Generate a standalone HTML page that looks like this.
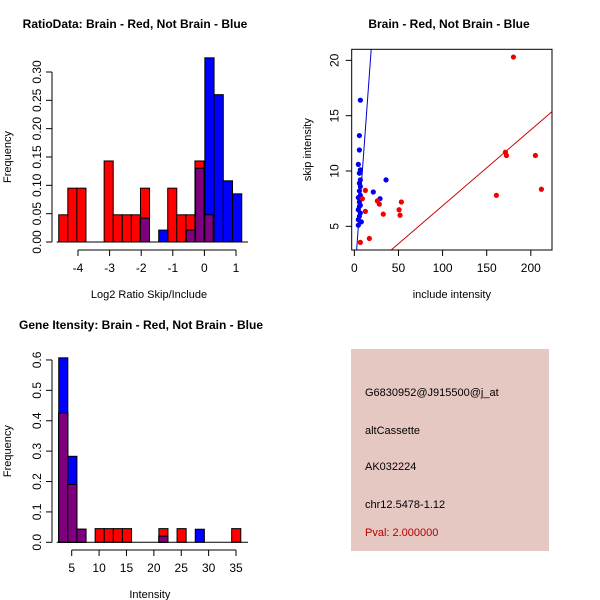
<!DOCTYPE html>
<html><head><meta charset="utf-8"><style>
html,body{margin:0;padding:0;background:#fff}
svg{display:block;font-family:"Liberation Sans",sans-serif}
</style></head><body>
<svg id="c" width="600" height="600" xmlns="http://www.w3.org/2000/svg">
<rect x="0" y="0" width="600" height="600" fill="#fff"/>
<text x="135" y="28" font-size="12" font-weight="bold" text-anchor="middle">RatioData: Brain - Red, Not Brain - Blue</text>
<text x="449" y="28" font-size="12" font-weight="bold" text-anchor="middle">Brain - Red, Not Brain - Blue</text>
<text x="141" y="329" font-size="12" font-weight="bold" text-anchor="middle">Gene Itensity: Brain - Red, Not Brain - Blue</text>
<rect x="351" y="349" width="198" height="202" fill="#e6c8c3"/>
<g font-size="11">
<text x="365" y="396">G6830952@J915500@j_at</text>
<text x="365" y="434">altCassette</text>
<text x="365" y="470">AK032224</text>
<text x="365" y="508">chr12.5478-1.12</text>
<text x="365" y="536" fill="#b00000">Pval: 2.000000</text>
</g>
</svg>
<script>
// Ratio histogram data
const ratioRedStart = -4.61, ratioRedWidth = 0.2874;
const ratioRedFreq = [0.048,0.095,0.095,0,0,0.143,0.048,0.048,0.048,0.095,0,0,0.095,0.048,0.048,0.143,0.048];
const ratioBlueStart = -2.03, ratioBlueWidth = 0.292;
const ratioBlueFreq = [0.042,0,0.021,0,0,0.021,0.13,0.325,0.26,0.108,0.085];
const ratioXTicks = [-4,-3,-2,-1,0,1];
const ratioYTicks = ["0.00","0.05","0.10","0.15","0.20","0.25","0.30"];
// Intensity histogram data
const intStart = 2.63, intWidth = 1.662;
const intRedFreq = [0.425,0.19,0.043,0,0.045,0.045,0.045,0.045,0,0,0,0.045,0,0.045,0,0,0,0,0,0.045];
const intBlueFreq = [0.607,0.283,0.043,0,0,0,0,0,0,0,0,0.02,0,0,0,0.043,0,0,0,0];
const intXTicks = [5,10,15,20,25,30,35];
const intYTicks = ["0.0","0.1","0.2","0.3","0.4","0.5","0.6"];
// Scatter data
const blueX = [6.8,5.7,5.7,4.5,6.8,5.7,6.8,5.7,6.8,5.7,6.8,4.5,5.7,6.8,4.5,6.8,5.7,7.9,4.5,21.5,29.1,35.9,5.7,4.5];
const blueY = [16.4,13.2,11.9,10.6,10.1,9.8,9.2,8.9,8.6,8.2,7.8,7.6,7.2,6.9,6.5,6.2,5.9,5.4,5.1,8.1,7.5,9.2,6.8,5.6];
const redX = [6.8,17.0,12.5,12.5,9.1,26.1,28.3,32.8,53.3,50.7,51.8,180.3,171.2,172.4,205.2,161.0,212.0];
const redY = [3.55,3.9,8.25,6.35,7.5,7.3,7.0,6.1,7.2,6.5,6.0,20.3,11.7,11.4,11.4,7.8,8.35];
const blueSlope = 1.1, redSlope = 0.0686;
const scXTicks = [0,50,100,150,200];
const scYTicks = [5,10,15,20];

const svg = document.getElementById('c');
const NS = 'http://www.w3.org/2000/svg';
function mk(tag, attrs, parent) {
  const e = document.createElementNS(NS, tag);
  for (const k in attrs) e.setAttribute(k, attrs[k]);
  (parent || svg).appendChild(e);
  return e;
}
function txt(x, y, s, attrs, parent) {
  const e = mk('text', Object.assign({x: x, y: y, 'font-size': 11}, attrs || {}), parent);
  e.textContent = s;
  return e;
}

function histPanel(o) {
  const g = mk('g', {});
  
  
  const xs = v => o.x0 + (v - o.xv0) * o.kx;
  const ys = v => o.y0 - v * o.ky;
  o.red.forEach((f, i) => {
    if (f <= 0) return;
    const a = o.rs + i * o.rw;
    const r = mk('rect', {x: xs(a), y: ys(f), width: xs(a + o.rw) - xs(a), height: ys(0) - ys(f), fill: '#ff0000', stroke: '#000', 'stroke-width': 1}, g);
    
    
  });
  o.blue.forEach((f, i) => {
    if (f <= 0) return;
    const a = o.bs + i * o.bw;
    const r = mk('rect', {x: xs(a), y: ys(f), width: xs(a + o.bw) - xs(a), height: ys(0) - ys(f), fill: '#0000ff', stroke: '#000', 'stroke-width': 1}, g);
    
    
  });
  o.blue.forEach((fb, i) => {
    if (fb <= 0) return;
    const a = o.bs + i * o.bw, b = a + o.bw;
    o.red.forEach((fr, j) => {
      if (fr <= 0) return;
      const c = o.rs + j * o.rw, d = c + o.rw;
      const lo = Math.max(a, c), hi = Math.min(b, d);
      if (hi - lo < o.rw * 0.5) return;
      const h = Math.min(fb, fr);
      const r = mk('rect', {x: xs(lo), y: ys(h), width: xs(hi) - xs(lo), height: ys(0) - ys(h), fill: '#7f007f', stroke: '#000', 'stroke-width': 1}, g);
      
      
    });
  });
  const xa = mk('g', {}, g);
  
  
  const ay = o.axY;
  mk('line', {x1: xs(o.xt[0]), x2: xs(o.xt[o.xt.length - 1]), y1: ay, y2: ay, stroke: '#000'}, xa);
  o.xt.forEach(t => {
    mk('line', {x1: xs(t), x2: xs(t), y1: ay, y2: ay + 6, stroke: '#000'}, xa);
    txt(xs(t), ay + 22, String(t), {'text-anchor': 'middle', 'font-size': 12}, xa);
  });
  txt((o.x0 + xs(o.xt[o.xt.length - 1])) / 2 + o.xlabDx, ay + 48, o.xlab, {'text-anchor': 'middle', 'font-size': 11}, xa);
  const ya = mk('g', {}, g);
  
  
  const ax = o.axX;
  mk('line', {x1: ax, x2: ax, y1: ys(0), y2: ys(parseFloat(o.yt[o.yt.length - 1])), stroke: '#000'}, ya);
  o.yt.forEach(t => {
    const y = ys(parseFloat(t));
    mk('line', {x1: ax, x2: ax - 6, y1: y, y2: y, stroke: '#000'}, ya);
    txt(ax - 11, y, t, {'text-anchor': 'middle', 'font-size': 12, transform: `rotate(-90 ${ax - 11} ${y})`}, ya);
  });
  const my = (ys(0) + ys(parseFloat(o.yt[o.yt.length - 1]))) / 2;
  txt(11, my, 'Frequency', {'text-anchor': 'middle', 'font-size': 11, transform: `rotate(-90 11 ${my})`}, ya);
  mk('line', {x1: xs(o.rs) - 2, x2: o.baseEnd, y1: ys(0), y2: ys(0), stroke: '#000'}, g);
}

histPanel({name: 'ratio-histogram', x0: 78, xv0: -4, kx: 31.6, y0: 242, ky: 566.7,
  red: ratioRedFreq, rs: ratioRedStart, rw: ratioRedWidth,
  blue: ratioBlueFreq, bs: ratioBlueStart, bw: ratioBlueWidth,
  xt: ratioXTicks, yt: ratioYTicks, axY: 250, axX: 52, xlab: 'Log2 Ratio Skip/Include', xlabDx: -8, baseEnd: 248});
histPanel({name: 'intensity-histogram', x0: 71.7, xv0: 5, kx: 5.477, y0: 542.3, ky: 303.9,
  red: intRedFreq, rs: intStart, rw: intWidth,
  blue: intBlueFreq, bs: intStart, bw: intWidth,
  xt: intXTicks, yt: intYTicks, axY: 550, axX: 52, xlab: 'Intensity', xlabDx: -4, baseEnd: 248});

(function () {
  const g = mk('g', {});
  
  
  const L = 351.7, R = 552, T = 49.3, B = 250;
  const xmin = -3, xmax = 224, ymin = 2.86, ymax = 21.0;
  const xs = v => L + (v - xmin) / (xmax - xmin) * (R - L);
  const ys = v => B - (v - ymin) / (ymax - ymin) * (B - T);
  const cp = mk('clipPath', {id: 'scclip'}, g);
  mk('rect', {x: L, y: T, width: R - L, height: B - T}, cp);
  const lg = mk('g', {'clip-path': 'url(#scclip)'}, g);
  const bl = mk('line', {x1: xs(0), y1: ys(0), x2: xs(30), y2: ys(30 * blueSlope), stroke: '#0000cc', 'stroke-width': 1}, lg);
  
  
  const rl = mk('line', {x1: xs(0), y1: ys(0), x2: xs(300), y2: ys(300 * redSlope), stroke: '#cc0000', 'stroke-width': 1}, lg);
  
  
  blueX.forEach((x, i) => {
    const c = mk('circle', {cx: xs(x), cy: ys(blueY[i]), r: 2.6, fill: '#0000ee'}, lg);
    
    
  });
  redX.forEach((x, i) => {
    const c = mk('circle', {cx: xs(x), cy: ys(redY[i]), r: 2.6, fill: '#ee0000'}, lg);
    
    
  });
  mk('rect', {x: L, y: T, width: R - L, height: B - T, fill: 'none', stroke: '#000'}, g);
  const xa = mk('g', {}, g);
  
  
  scXTicks.forEach(t => {
    mk('line', {x1: xs(t), x2: xs(t), y1: B, y2: B + 6, stroke: '#000'}, xa);
    txt(xs(t), B + 22, String(t), {'text-anchor': 'middle', 'font-size': 12}, xa);
  });
  txt((L + R) / 2, 298, 'include intensity', {'text-anchor': 'middle', 'font-size': 11}, xa);
  const ya = mk('g', {}, g);
  
  
  scYTicks.forEach(t => {
    const y = ys(t);
    mk('line', {x1: L, x2: L - 6, y1: y, y2: y, stroke: '#000'}, ya);
    txt(L - 13, y, String(t), {'text-anchor': 'middle', 'font-size': 12, transform: `rotate(-90 ${L - 13} ${y})`}, ya);
  });
  txt(311, (T + B) / 2, 'skip intensity', {'text-anchor': 'middle', 'font-size': 11, transform: `rotate(-90 311 ${(T + B) / 2})`}, ya);
})();
</script>
</body></html>
